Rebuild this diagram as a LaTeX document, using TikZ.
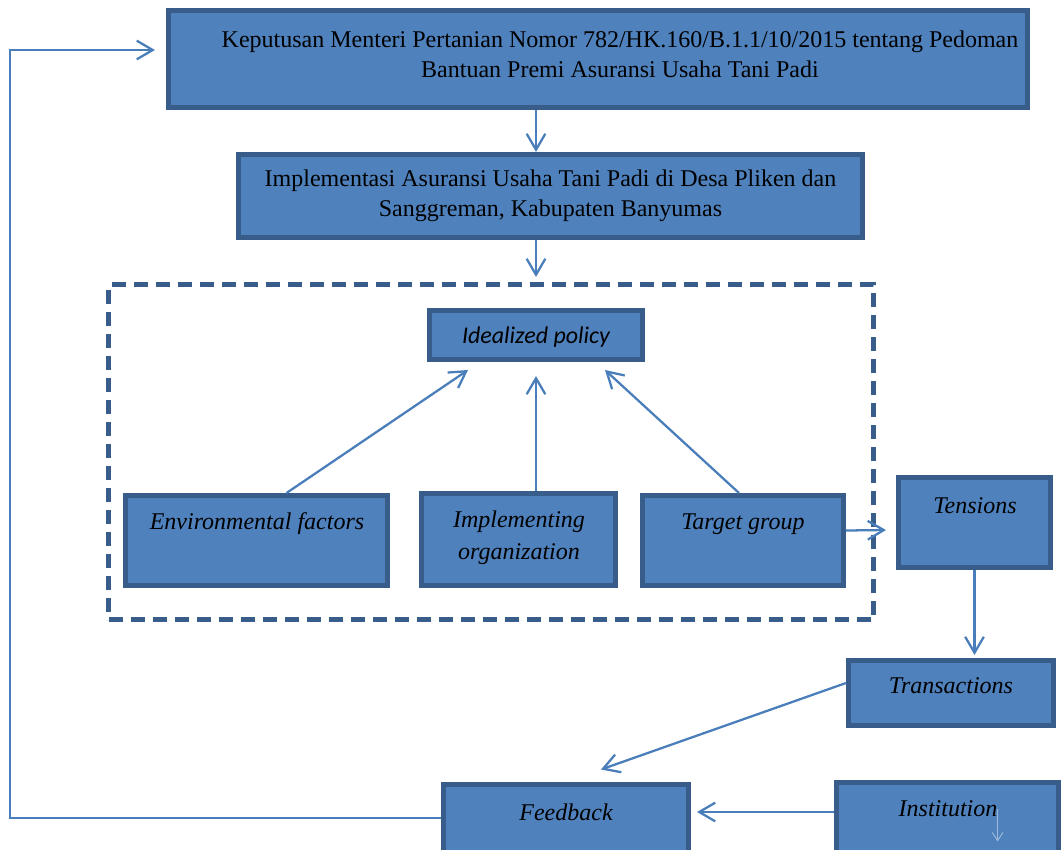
\documentclass[tikz,border=0pt]{standalone}
\usepackage{fontspec}
\setmainfont{Liberation Serif}
\newfontfamily\calibrifont{Carlito}
\usetikzlibrary{arrows.meta,positioning,calc}
\definecolor{BoxFill}{RGB}{79,129,189}
\definecolor{BoxLine}{RGB}{56,93,138}
\definecolor{LinkBlue}{RGB}{74,126,187}

\begin{document}
\begin{tikzpicture}[x=0.75pt,y=-0.75pt,
        boxsize/.style 2 args={minimum width=#1*0.75pt,minimum height=#2*0.75pt},
        box/.style={draw=BoxLine,fill=BoxFill,line width=3.75pt,inner sep=0pt},
        frame/.style={draw=BoxLine,line width=3.75pt,dash pattern=on 10.5pt off 6pt,inner sep=0pt},
        caption/.style={font=\fontsize{18}{22.5}\selectfont,align=center,inner sep=0pt},
        tag/.style={font=\fontsize{18}{24}\selectfont\itshape,align=center,inner sep=0pt},
        link/.style={draw=LinkBlue,line width=1.7pt,
                     -{Straight Barb[length=12pt,width=14pt]}},
        ghost/.style={draw=BoxFill!55!white,line width=0.7pt,
                      -{Straight Barb[length=6pt,width=8pt]}}
      ]
        \useasboundingbox (0,0) rectangle (1061,850);
        \clip (0,0) rectangle (1061,850);
        % top of the chain
        \node[box,boxsize={859}{97}] (kepmen) at (598,59) {};
        \node[caption] (kepmentxt) at (620,54)
          {Keputusan Menteri Pertanian Nomor 782/HK.160/B.1.1/10/2015 tentang Pedoman\\
           Bantuan Premi Asuransi Usaha Tani Padi};
        \node[box,caption,boxsize={624}{83}] (desa) at (550.5,196)
          {Implementasi Asuransi Usaha Tani Padi di Desa Pliken dan\\
           Sanggreman, Kabupaten Banyumas};
        % dashed model frame
        \node[frame,boxsize={765}{335}] (model) at (491,452) {};
        \node[box,boxsize={213}{49},text depth=0pt,
              font=\calibrifont\fontsize{18}{21}\selectfont\itshape]
          (ideal) at (536,335) {Idealized policy};
        \node[box,boxsize={262}{90}] (env) at (256.5,540.5) {};
        \node[tag] (envtxt) at (257,524) {Environmental factors};
        \node[box,boxsize={194}{92}] (org) at (518.5,539.5) {};
        \node[tag] (orgtxt) at (519,538) {Implementing\\organization};
        \node[box,boxsize={201}{90}] (target) at (743,540.5) {};
        \node[tag] (targettxt) at (743,524) {Target group};
        % outcome boxes
        \node[box,boxsize={152}{90}] (tensions) at (974.5,522.5) {};
        \node[tag] (tensionstxt) at (975,506) {Tensions};
        \node[box,boxsize={205}{65}] (trans) at (951,693) {};
        \node[tag] (transtxt) at (951,686) {Transactions};
        \node[box,boxsize={245}{84}] (feedback) at (566,826) {};
        \node[tag] (feedbacktxt) at (566,812) {Feedback};
        \node[box,boxsize={222}{85}] (inst) at (947.5,825) {};
        \node[tag] (insttxt) at (948,809) {Institution};
        \coordinate (loop) at (10,50);
        % connectors
        \draw[link] (kepmen.south -| ideal) -- (desa.north -| ideal);
        \draw[link] (desa.south -| ideal) -- ($(model.north -| ideal)+(0,-5)$);
        \draw[link] ($(env.north)+(30,0)$) -- ($(ideal.south)+(-68,8)$);
        \draw[link] (org.north -| ideal) -- ($(ideal.south)+(0,14)$);
        \draw[link] ($(target.north)+(-4,0)$) -- ($(ideal.south)+(69,8)$);
        \draw[link] ($(target.east)+(0,-10)$) -- ($(tensions.west)+(-10,7.5)$);
        \draw[link] (tensions.south) -- ($(trans.north -| tensions.south)+(0,-3)$);
        \draw[link] ($(trans.west)+(0,-10)$) -- ($(feedback.north)+(35,-12)$);
        \draw[link] ($(inst.west)+(0,-13)$) -- ($(feedback.east |- inst.west)+(6,-13)$);
        \draw[link] ($(feedback.west)+(0,-8)$) -| (loop) -- ($(kepmen.west)+(-11,-9)$);
        \draw[ghost] ($(insttxt.south east)+(0,-8)$) -- ++(0,32);
      \end{tikzpicture}
\end{document}
